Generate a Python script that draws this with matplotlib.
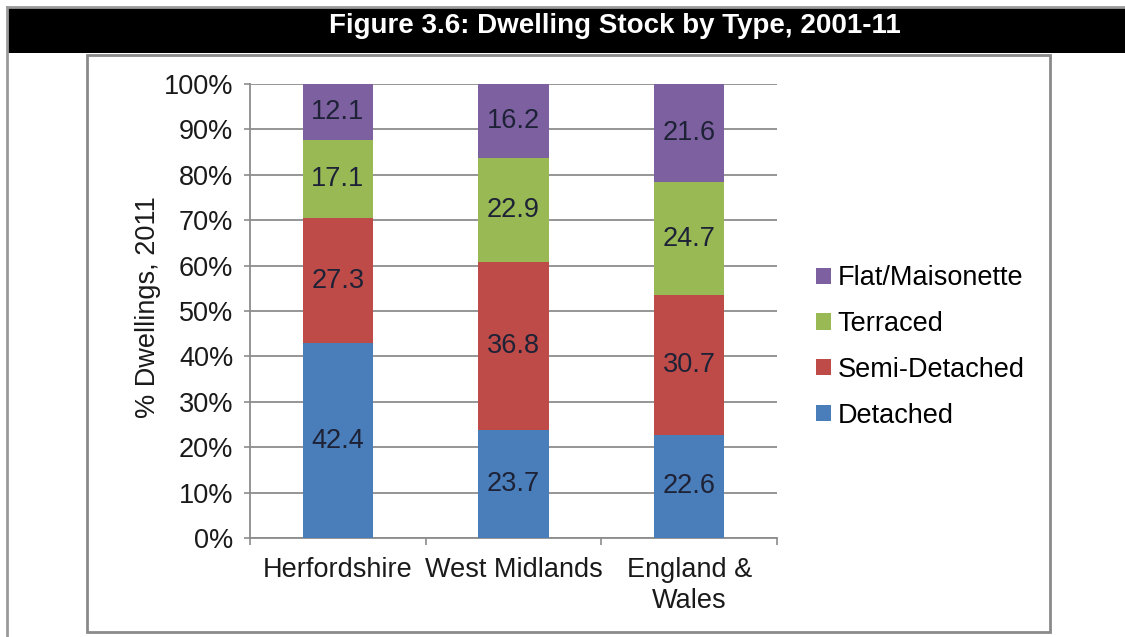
import matplotlib
matplotlib.use("Agg")
import matplotlib.pyplot as plt
import numpy as np
from matplotlib.patches import Rectangle
from matplotlib.lines import Line2D

# data (values printed in the bars)
areas = ["Herfordshire", "West Midlands", "England &\nWales"]
types = ["Detached", "Semi-Detached", "Terraced", "Flat/Maisonette"]
detached = [42.4, 23.7, 22.6]
semi = [27.3, 36.8, 30.7]
terraced = [17.1, 22.9, 24.7]
flat = [12.1, 16.2, 21.6]
colours = ["#4a7ebb", "#be4b48", "#98b954", "#7d60a0"]

W, H = 1125, 637
plt.rcParams['font.family'] = ['Liberation Sans', 'DejaVu Sans']
fs = 19.5


def fx(px):
    return px / W


def fy(py):
    return (H - py) / H


fig = plt.figure(figsize=(W / 100, H / 100), dpi=100)
fig.patch.set_facecolor("white")

# header bar and frame lines
fig.add_artist(Rectangle((fx(7), fy(53)), 1 - fx(7), fy(8) - fy(53),
                         transform=fig.transFigure, facecolor="black",
                         edgecolor="none"))
fig.add_artist(Line2D([fx(7), 1], [fy(7), fy(7)], transform=fig.transFigure,
                      color="#9a9a9a", lw=2))
fig.add_artist(Line2D([fx(7), fx(7)], [fy(7), 0], transform=fig.transFigure,
                      color="#9a9a9a", lw=2))
fig.add_artist(Rectangle((fx(87), fy(632)), fx(1050) - fx(87), fy(55) - fy(632),
                         transform=fig.transFigure, facecolor="none",
                         edgecolor="#8a8a8a", lw=2))

fig.text(fx(615), fy(33), "Figure 3.6: Dwelling Stock by Type, 2001-11",
         ha="center", va="baseline", color="white", fontsize=20,
         fontweight="bold",
         family=['Liberation Sans Narrow', 'Liberation Sans', 'DejaVu Sans'])

ax = fig.add_axes([fx(250), fy(538), fx(777) - fx(250), fy(84) - fy(538)])

series = np.array([detached, semi, terraced, flat])
shares = series / series.sum(axis=0) * 100
x = np.arange(len(areas))
bottom = np.zeros(len(areas))
handles = []
for i, name in enumerate(types):
    b = ax.bar(x, shares[i], 0.4, bottom=bottom, color=colours[i],
               label=name, zorder=3)
    handles.append(b)
    for j in range(len(areas)):
        ax.text(x[j], bottom[j] + shares[i][j] / 2, "%.1f" % series[i][j],
                ha="center", va="center", fontsize=fs, color="#1e2236",
                zorder=4)
    bottom += shares[i]

ax.set_xlim(-0.5, 2.5)
ax.set_ylim(0, 100)
ax.set_yticks(np.arange(0, 101, 10))
ax.set_yticklabels(["%d%%" % v for v in range(0, 101, 10)])
ax.yaxis.grid(True, color="#8c8c8c", lw=1.3, zorder=0)
ax.set_xticks(x)
ax.set_xticklabels(areas, linespacing=1.25)
ax.set_xticks([-0.5, 0.5, 1.5, 2.5], minor=True)
ax.tick_params(axis="x", which="major", length=0, pad=14, labelsize=fs,
               labelcolor="#1a1a1a")
ax.tick_params(axis="x", which="minor", length=5, color="#8c8c8c", width=1.2)
ax.tick_params(axis="y", length=4, color="#8c8c8c", width=1.2, pad=8,
               labelsize=fs, labelcolor="#1a1a1a")
for s in ["top", "right"]:
    ax.spines[s].set_visible(False)
for s in ["left", "bottom"]:
    ax.spines[s].set_color("#8c8c8c")
    ax.spines[s].set_linewidth(1.3)

fig.text(fx(148), fy(307), "% Dwellings, 2011", rotation=90, ha="center",
         va="center", fontsize=fs, color="#1a1a1a")

fig.legend(handles[::-1], types[::-1], loc="center left",
           bbox_to_anchor=(fx(816), fy(347)), frameon=False, fontsize=fs,
           handlelength=0.55, handleheight=0.55, handletextpad=0.25,
           labelspacing=0.73, borderpad=0, borderaxespad=0)

fig.savefig("out.png", dpi=100)
